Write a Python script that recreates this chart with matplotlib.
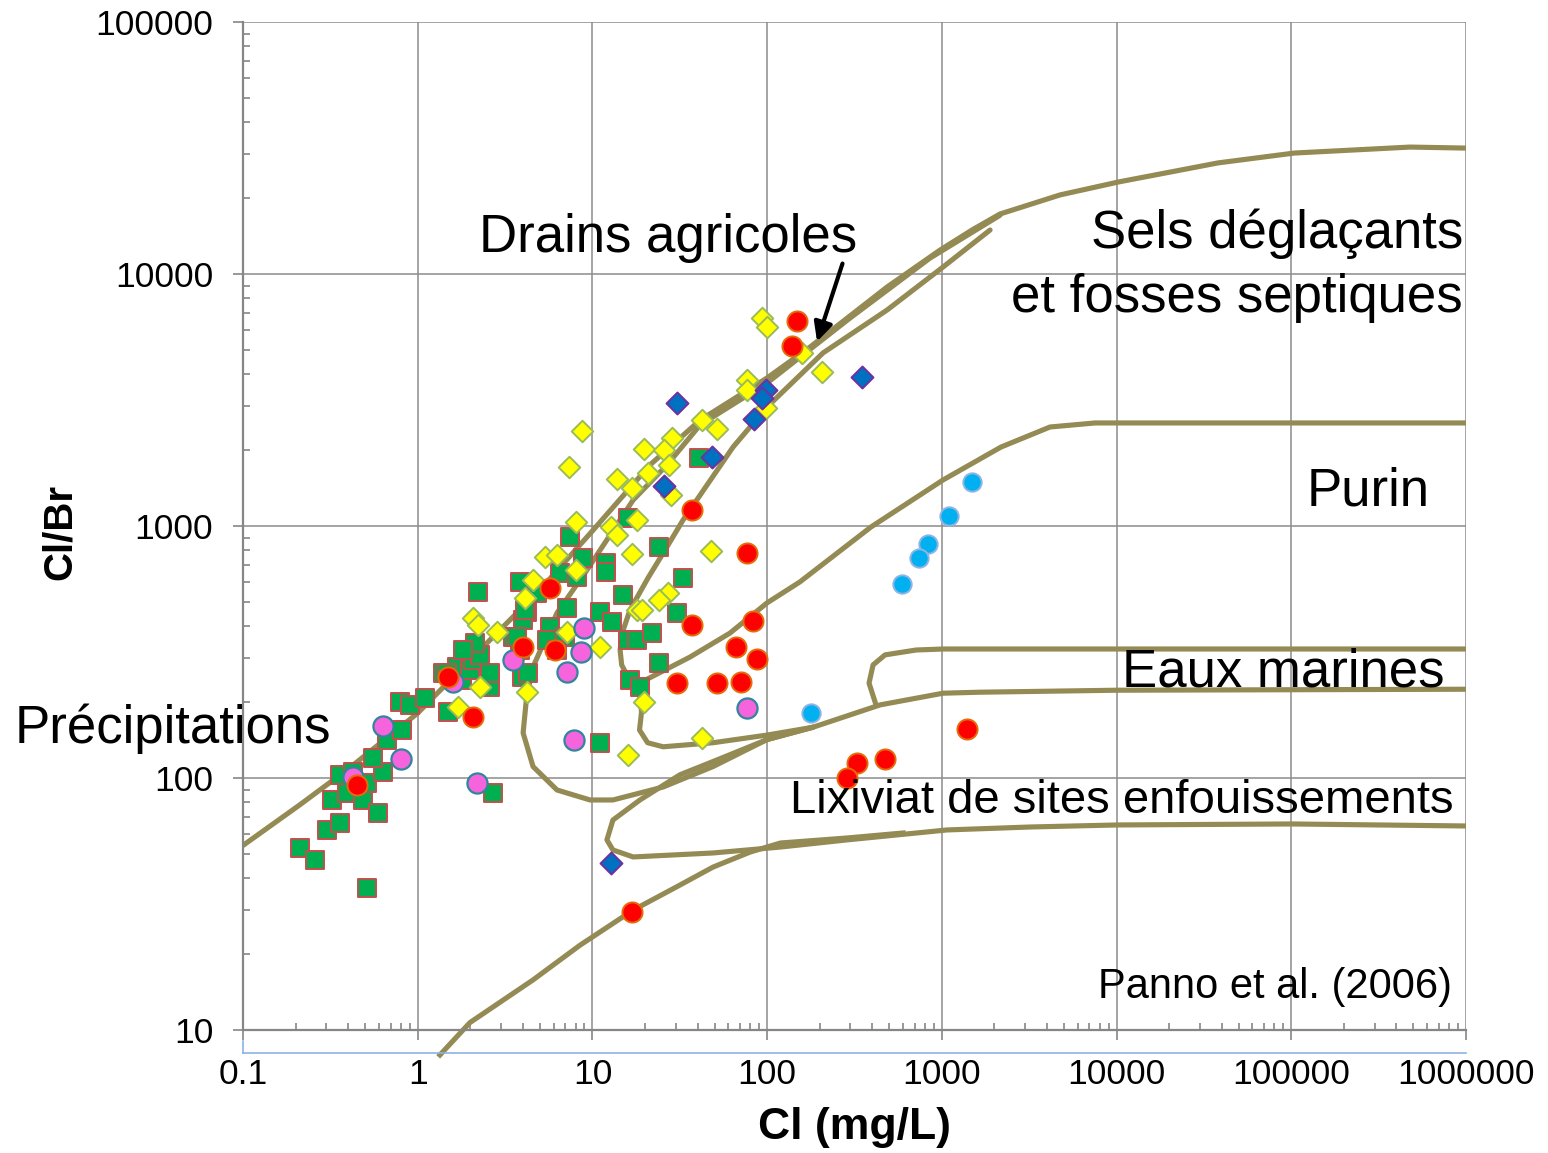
import matplotlib.pyplot as plt
from matplotlib.ticker import LogLocator, NullFormatter

plt.rcParams['font.family'] = ['Liberation Sans', 'DejaVu Sans']

# -------------------------
# Samples: Cl (mg/L) and Cl/Br ratio
# -------------------------

green_cl = [0.212, 0.258, 0.513, 0.303, 0.359, 0.323, 0.394, 0.359, 0.426, 0.486,
            0.593, 0.513, 0.633, 0.555, 0.668, 0.813, 0.792, 0.904, 1.10, 1.49,
            1.39, 1.79, 1.67, 1.98, 2.07, 2.26, 2.58, 2.58, 2.69, 3.94,
            4.26, 11.0, 16.3, 18.6, 24.2, 2.21, 3.83, 6.48, 8.13, 7.41,
            8.78, 12.0, 12.0, 15.9, 24.2, 41.0, 32.8, 14.9, 30.3, 7.13,
            11.0, 13.0, 4.21, 3.99, 5.70, 6.95, 2.12, 1.81, 3.50, 3.83,
            5.48, 6.25, 15.9, 18.1, 22.0, 3.69, 4.80, 4.10, 1.47]
green_ratio = [52.8, 47.3, 36.6, 62.2, 66.3, 81.9, 87.3, 103, 106, 81.9,
               72.7, 95.3, 106, 120, 142, 155, 200, 195, 208, 183,
               261, 245, 276, 268, 294, 308, 230, 261, 87.3, 252,
               261, 138, 245, 230, 286, 547, 600, 651, 628, 905,
               747, 714, 656, 1076, 825, 1862, 622, 533, 452, 473,
               456, 416, 456, 424, 397, 363, 343, 322, 363, 322,
               353, 322, 353, 353, 376, 363, 542, 464, 261]

yellow_cl = [93, 100, 159, 207, 76.2, 77, 99, 8.67, 7.31, 42.1,
             51.3, 28.7, 19.8, 25.8, 27.6, 20.7, 13.9, 16.9, 28.3, 8.03,
             12.8, 13.9, 17.9, 16.9, 47.9, 5.33, 6.25, 8.03, 4.55, 4.10,
             26.9, 24.2, 17.9, 19.1, 2.07, 2.21, 2.83, 7.13, 11.0, 2.26,
             1.69, 4.21, 15.9, 19.8, 42.6]
yellow_ratio = [6700, 6160, 4860, 4080, 3790, 3460, 2940, 2380, 1715, 2630,
                2430, 2235, 2020, 2000, 1745, 1623, 1537, 1415, 1327, 1037,
                991, 922, 1056, 775, 795, 754, 768, 670, 610, 518,
                542, 508, 464, 464, 432, 405, 379, 379, 331, 230,
                191, 220, 123, 200, 144]

red_cl = [148, 139, 36.9, 77, 5.7, 36.9, 83.5, 3.99, 6.1, 1.49,
          66, 87.8, 30.6, 51.9, 71.3, 328, 473, 287, 1390, 16.9,
          0.45, 2.07]
red_ratio = [6510, 5180, 1157, 783, 568, 405, 420, 331, 322, 252,
             331, 297, 238, 238, 240, 115, 119, 100, 157, 29.4,
             93.8, 175]

pink_cl = [8.92, 8.58, 3.5, 7.13, 0.633, 0.804, 0.426, 2.18, 7.8, 76.2, 1.59]
pink_ratio = [394, 316, 294, 263, 161, 119, 101, 95.3, 142, 190, 240]

blue_cl = [30.6, 99, 93, 84.3, 48.6, 25.8, 350, 12.8]
blue_ratio = [3080, 3460, 3220, 2660, 1880, 1440, 3900, 46]

cyan_cl = [1485, 1097, 835, 741, 593, 179]
cyan_ratio = [1495, 1096, 850, 747, 590, 181]

# -------------------------
# Field boundaries (Panno et al. 2006)
# -------------------------

sels_cl = [0.1, 0.21, 0.41, 1.0, 2.27, 5.0, 10.1, 21.4, 41.3, 100,
           176, 486, 977, 1500, 2150, 4750, 10300, 38100, 104000, 479000, 1e6]
sels_ratio = [54, 78, 110, 181, 322, 557, 964, 1750, 2630, 3870,
              5130, 8880, 12450, 15000, 17300, 20600, 23200, 27600, 30200, 31900, 31600]

drains_cl = [183, 99.8, 49, 25.4, 13.1, 9.69, 6.27, 4.57, 4.01, 4.22,
             4.57, 6.27, 9.31, 17.1, 26.7, 41.3, 99.8, 298, 856, 2150]
drains_ratio = [159, 142, 111, 92.1, 81.8, 81.8, 89.6, 111, 151, 217,
                276, 452, 669, 1268, 1746, 2517, 3693, 6686, 11570, 17100]

marine_low_cl = [1e6, 10070, 1655, 1016, 443, 183, 99.8, 49, 25.4, 20.7,
                 18.6, 19.1, 18.6, 16.3, 14.7, 14.4, 14.8, 16.4, 20.8, 26.7,
                 33.0, 63.8, 99.8, 209, 486, 1016, 1888]
marine_low_ratio = [225, 223, 219, 217, 195, 159, 148, 138, 133, 138,
                    155, 183, 213, 245, 281, 322, 376, 464, 622, 826,
                    1056, 2057, 2966, 4864, 7197, 10660, 14950]

marine_up_cl = [1e6, 1016, 712, 473, 404, 383, 420]
marine_up_ratio = [325, 325, 322, 308, 281, 238, 195]

purin_cl = [1e6, 7530, 4160, 2180, 1016, 393, 154, 99.8, 61.3, 36.2, 18.6]
purin_ratio = [2564, 2564, 2471, 2057, 1523, 991, 600, 495, 376, 302, 238]

lix_cl = [183, 99.8, 51.7, 31.7, 18.7, 13.1, 12.1, 13.1, 17.1, 49,
          119, 287, 1071, 3199, 10070, 101000, 1e6]
lix_ratio = [159, 142, 118, 103, 81.8, 68.1, 56.8, 51.8, 48.6, 50.4,
             53.2, 56.8, 62.2, 63.9, 65.1, 65.7, 64.5]

bottom_cl = [1.34, 1.99, 4.57, 8.49, 17.1, 31.7, 49, 79.8, 119, 287, 600]
bottom_ratio = [7.96, 10.7, 15.8, 21.7, 29.9, 37.6, 44.3, 50.8, 55.2, 57.8, 60.5]

arrow_tip = (193, 5400)
arrow_tail = (270, 11000)

x_ticks = [0.1, 1, 10, 100, 1000, 10000, 100000, 1000000]
x_labels = ["0.1", "1", "10", "100", "1000", "10000", "100000", "1000000"]
y_ticks = [10, 100, 1000, 10000, 100000]
y_labels = ["10", "100", "1000", "10000", "100000"]

# -------------------------
# Plot
# -------------------------

fig = plt.figure(figsize=(15.48, 11.53), dpi=100)
ax = fig.add_axes([0.157, 0.1067, 0.790, 0.8742])
ax.set_xscale('log')
ax.set_yscale('log')
ax.set_xlim(0.1, 1e6)
ax.set_ylim(10, 1e5)

curve_color = '#948A54'
curves = [
    (sels_cl, sels_ratio),
    (drains_cl, drains_ratio),
    (marine_low_cl, marine_low_ratio),
    (marine_up_cl, marine_up_ratio),
    (purin_cl, purin_ratio),
    (lix_cl, lix_ratio),
]
for cl, ratio in curves:
    ax.plot(cl, ratio, color=curve_color, lw=3.7, solid_joinstyle='round',
            solid_capstyle='round', zorder=2)
ax.plot(bottom_cl, bottom_ratio, color=curve_color, lw=3.7,
        solid_joinstyle='round', zorder=2, clip_on=False)

ax.scatter(green_cl, green_ratio, marker='s', s=175, c='#00B050',
           edgecolors='#C0504D', linewidths=1.4, zorder=3)
ax.scatter(yellow_cl, yellow_ratio, marker='D', s=120, c='#FFFF00',
           edgecolors='#9BBB59', linewidths=1.4, zorder=4)
ax.scatter(pink_cl, pink_ratio, marker='o', s=210, c='#F564DC',
           edgecolors='#31859C', linewidths=1.6, zorder=5)
ax.scatter(red_cl, red_ratio, marker='o', s=210, c='#FF0000',
           edgecolors='#E46C0A', linewidths=1.4, zorder=6)
ax.scatter(blue_cl, blue_ratio, marker='D', s=125, c='#0070C0',
           edgecolors='#7030A0', linewidths=1.4, zorder=7)
ax.scatter(cyan_cl, cyan_ratio, marker='o', s=175, c='#00B0F0',
           edgecolors='#8EB4E3', linewidths=1.4, zorder=7)

ax.annotate("", xy=arrow_tip, xytext=arrow_tail,
            arrowprops=dict(arrowstyle='-|>', color='black', lw=3,
                            mutation_scale=28, shrinkA=0, shrinkB=0),
            zorder=9)

# axes styling
grey = '#868686'
ax.set_xticks(x_ticks)
ax.set_xticklabels(x_labels)
ax.set_yticks(y_ticks)
ax.set_yticklabels(y_labels)
ax.xaxis.set_minor_locator(LogLocator(base=10, subs=range(2, 10), numticks=20))
ax.yaxis.set_minor_locator(LogLocator(base=10, subs=range(2, 10), numticks=20))
ax.xaxis.set_minor_formatter(NullFormatter())
ax.yaxis.set_minor_formatter(NullFormatter())
ax.tick_params(which='major', direction='out', length=7.5, width=1.2,
               color=grey, labelsize=25.5)
ax.tick_params(axis='x', which='major', pad=13)
ax.tick_params(axis='y', which='major', pad=14)
ax.tick_params(which='minor', direction='in', length=5, width=1.2, color=grey)
for side in ['top', 'right']:
    ax.spines[side].set_visible(False)
for side in ['left', 'bottom']:
    ax.spines[side].set_color(grey)
    ax.spines[side].set_linewidth(1.6)
ax.grid(True, which='major', color='#8C8C8C', lw=1.1)
ax.set_axisbelow(True)

ax.plot([0, 1], [-0.0228, -0.0228], transform=ax.transAxes, clip_on=False,
        color='#8DB3E2', lw=1.2)
ax.plot([0, 0], [-0.011, -0.0228], transform=ax.transAxes, clip_on=False,
        color='#8DB3E2', lw=1.2)

ax.set_xlabel("Cl (mg/L)", fontsize=32, fontweight='bold', va='center')
ax.xaxis.set_label_coords(0.5, -0.097)
ax.set_ylabel("Cl/Br", fontsize=29, fontweight='bold', va='center')
ax.yaxis.set_label_coords(-0.1496, 0.494)

# field labels
big = 38
ax.text(0.3475, 0.7718, "Drains agricoles", transform=ax.transAxes,
        fontsize=big, ha='center', va='baseline', zorder=10)
ax.text(0.9975, 0.7758, "Sels déglaçants", transform=ax.transAxes,
        fontsize=big, ha='right', va='baseline', zorder=10)
ax.text(0.9975, 0.7123, "et fosses septiques", transform=ax.transAxes,
        fontsize=big, ha='right', va='baseline', zorder=10)
ax.text(0.9706, 0.5208, "Purin", transform=ax.transAxes,
        fontsize=big, ha='right', va='baseline', zorder=10)
ax.text(0.9828, 0.3403, "Eaux marines", transform=ax.transAxes,
        fontsize=big, ha='right', va='baseline', zorder=10)
ax.text(-0.0572, 0.2847, "Précipitations", transform=ax.transAxes,
        fontsize=big, ha='center', va='baseline', zorder=10)
ax.text(0.7183, 0.2153, "Lixiviat de sites enfouissements", transform=ax.transAxes,
        fontsize=34, ha='center', va='baseline', zorder=10)
ax.text(0.9886, 0.0317, "Panno et al. (2006)", transform=ax.transAxes,
        fontsize=30, ha='right', va='baseline', zorder=10)

plt.savefig("out.png", dpi=100)
plt.close()
